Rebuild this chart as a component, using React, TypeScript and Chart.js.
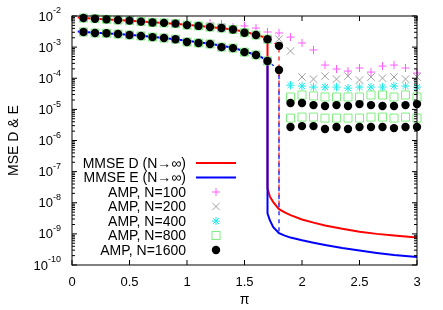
import React, { useEffect, useRef } from 'react';
import { Chart, registerables } from 'chart.js';

Chart.register(...registerables);

const FONT = "'Liberation Sans', Arial, Helvetica, sans-serif";

// ---- data ----
const ampX = [0.1, 0.2, 0.3, 0.4, 0.5, 0.6, 0.7, 0.8, 0.9, 1.0, 1.1, 1.2, 1.3, 1.4, 1.5, 1.6, 1.7, 1.8, 1.9, 2.0, 2.1, 2.2, 2.3, 2.4, 2.5, 2.6, 2.7, 2.8, 2.9, 3.0];

const amp1600D = [8.6e-3, 8.2e-3, 7.8e-3, 7.4e-3, 7.1e-3, 6.6e-3, 6.2e-3, 6.0e-3, 5.7e-3, 5.1e-3, 4.8e-3, 4.4e-3, 4.1e-3, 3.7e-3, 2.9e-3, 2.45e-3, 1.8e-3, 1.1e-3, 1.6e-5, 1.6e-5, 1.37e-5, 1.28e-5, 1.37e-5, 1.28e-5, 1.48e-5, 1.37e-5, 1.28e-5, 1.28e-5, 1.37e-5, 1.48e-5];
const amp1600E = [3.06e-3, 2.84e-3, 2.8e-3, 2.64e-3, 2.45e-3, 2.28e-3, 2.1e-3, 1.96e-3, 1.8e-3, 1.46e-3, 1.36e-3, 1.26e-3, 1.0e-3, 9.3e-4, 6.9e-4, 5.6e-4, 3.6e-4, 1.84e-4, 2.7e-6, 2.9e-6, 2.9e-6, 2.33e-6, 2.7e-6, 2.33e-6, 2.7e-6, 2.7e-6, 2.7e-6, 2.5e-6, 2.7e-6, 2.7e-6];

const amp800D = [8.6e-3, 8.2e-3, 7.8e-3, 7.4e-3, 7.1e-3, 6.6e-3, 6.2e-3, 6.0e-3, 5.7e-3, 5.1e-3, 4.8e-3, 4.4e-3, 4.1e-3, 3.7e-3, 2.9e-3, 2.45e-3, 1.8e-3, null, 2.5e-5, 2.9e-5, 2.7e-5, 2.5e-5, 2.5e-5, 2.5e-5, 2.5e-5, 2.9e-5, 2.9e-5, 2.5e-5, 2.9e-5, 2.5e-5];
const amp800E = [3.06e-3, 2.84e-3, 2.8e-3, 2.64e-3, 2.45e-3, 2.28e-3, 2.1e-3, 1.96e-3, 1.8e-3, 1.46e-3, 1.36e-3, 1.26e-3, 1.0e-3, 9.3e-4, 6.9e-4, 5.6e-4, 3.6e-4, null, 5.25e-6, 5.65e-6, 5.65e-6, 5.25e-6, 5.25e-6, 5.25e-6, 5.25e-6, 5.65e-6, 5.65e-6, 5.25e-6, 5.65e-6, 5.25e-6];

const amp400D = [8.6e-3, 8.2e-3, 7.8e-3, 7.4e-3, 7.1e-3, 6.6e-3, 6.2e-3, 6.0e-3, 5.7e-3, 5.1e-3, 4.8e-3, 4.4e-3, 4.1e-3, 3.7e-3, 2.9e-3, 2.45e-3, 1.8e-3, null, 6.0e-5, 5.6e-5, 5.2e-5, 5.2e-5, 5.2e-5, 4.8e-5, 5.2e-5, 5.2e-5, 5.2e-5, 5.6e-5, 5.6e-5, 5.2e-5];
const amp400E = [3.06e-3, 2.84e-3, 2.8e-3, 2.64e-3, 2.45e-3, 2.28e-3, 2.1e-3, 1.96e-3, 1.8e-3, 1.46e-3, 1.36e-3, 1.26e-3, 1.0e-3, 9.3e-4, 6.9e-4, 5.6e-4, 3.6e-4];

const amp200D = [8.6e-3, 8.2e-3, 7.8e-3, 7.4e-3, 7.1e-3, 6.6e-3, 6.2e-3, 6.0e-3, 5.7e-3, 5.1e-3, 4.8e-3, 4.4e-3, 4.1e-3, 3.7e-3, 2.9e-3, 2.45e-3, 1.8e-3, 1.8e-3, 7.5e-4, 1.1e-4, 9.4e-5, 1.17e-4, 9.4e-5, 1.17e-4, 8.7e-5, 1.1e-4, 1.01e-4, 1.1e-4, 9.4e-5, 1.1e-4];
const amp200E = [3.06e-3, 2.84e-3, 2.8e-3, 2.64e-3, 2.45e-3, 2.28e-3, 2.1e-3, 1.96e-3, 1.8e-3, 1.46e-3, 1.36e-3, 1.26e-3, 1.0e-3, 9.3e-4, 6.9e-4, 5.6e-4, 3.6e-4];

const amp100D = [8.6e-3, 8.2e-3, 7.8e-3, 7.4e-3, 7.1e-3, 6.6e-3, 6.2e-3, 6.0e-3, 5.7e-3, 5.1e-3, 4.8e-3, 5.95e-3, 5.5e-3, 4.4e-3, 4.8e-3, 4.1e-3, 3.06e-3, 2.84e-3, 2.1e-3, 1.36e-3, 8.1e-4, 2.65e-4, 1.98e-4, 1.7e-4, 2.13e-4, 1.58e-4, 2.46e-4, 2.65e-4, 2.13e-4, 1.47e-4];
const amp100E = [3.06e-3, 2.84e-3, 2.8e-3, 2.64e-3, 2.45e-3, 2.28e-3, 2.1e-3, 1.96e-3, 1.8e-3, 1.46e-3, 1.36e-3, 1.26e-3, 1.0e-3, 9.3e-4, 6.9e-4, 5.6e-4, 3.6e-4];

const mmseDX = [0.05, 0.2, 0.4, 0.6, 0.8, 1.0, 1.2, 1.4, 1.5, 1.6, 1.65, 1.7, 1.7, 1.72, 1.75, 1.8, 1.85, 1.9, 2.0, 2.1, 2.2, 2.35, 2.5, 2.65, 2.8, 3.0];
const mmseD = [8.9e-3, 8.2e-3, 7.4e-3, 6.6e-3, 6.0e-3, 5.2e-3, 4.4e-3, 3.7e-3, 3.1e-3, 2.5e-3, 2.2e-3, 1.8e-3, 2.9e-8, 1.6e-8, 1.05e-8, 6.2e-9, 4.9e-9, 4.0e-9, 2.9e-9, 2.3e-9, 1.85e-9, 1.45e-9, 1.18e-9, 1.0e-9, 8.8e-10, 7.6e-10];
const mmseEX = [0.05, 0.2, 0.4, 0.6, 0.8, 1.0, 1.2, 1.4, 1.5, 1.6, 1.65, 1.7, 1.7, 1.72, 1.75, 1.8, 1.85, 1.9, 2.0, 2.1, 2.2, 2.35, 2.5, 2.65, 2.8, 3.0];
const mmseE = [3.15e-3, 2.9e-3, 2.65e-3, 2.3e-3, 1.97e-3, 1.6e-3, 1.28e-3, 9.5e-4, 7.4e-4, 5.6e-4, 4.7e-4, 3.6e-4, 4.6e-9, 2.75e-9, 1.64e-9, 1.05e-9, 8.8e-10, 7.6e-10, 6.2e-10, 5.2e-10, 4.4e-10, 3.5e-10, 2.9e-10, 2.45e-10, 2.1e-10, 1.8e-10];

const spinX = [1.7, 1.8, 1.8];
const spinD = [1.8e-3, 1.1e-3, 6.2e-9];
const spinE = [3.6e-4, 1.84e-4, 1.05e-9];

const xTicks = [0, 0.5, 1, 1.5, 2, 2.5, 3];
const yDecades = [-10, -9, -8, -7, -6, -5, -4, -3, -2];

const legendLabels = ['MMSE D (N\u2192\u221E)', 'MMSE E (N\u2192\u221E)', 'AMP, N=100', 'AMP, N=200', 'AMP, N=400', 'AMP, N=800', 'AMP, N=1600'];

// ---- styles ----
const RED = '#ff0000';
const BLUE = '#0000ff';
const PINK = '#ff5cff';
const GRAY = '#a0a0a0';
const CYAN = '#22eaea';
const GREEN = '#80ee80';

const pts = (xs: number[], ys: (number | null)[]) =>
  ys.map((y, i) => ({ x: xs[i], y })).filter((p) => p.y !== null) as { x: number; y: number }[];

function drawMarker(ctx: CanvasRenderingContext2D, kind: string, x: number, y: number) {
  ctx.save();
  ctx.lineWidth = 1;
  if (kind === 'plus') {
    ctx.strokeStyle = PINK;
    ctx.beginPath();
    ctx.moveTo(x - 4, y); ctx.lineTo(x + 4, y);
    ctx.moveTo(x, y - 4); ctx.lineTo(x, y + 4);
    ctx.stroke();
  } else if (kind === 'x') {
    ctx.strokeStyle = GRAY;
    ctx.beginPath();
    ctx.moveTo(x - 3.7, y - 3.7); ctx.lineTo(x + 3.7, y + 3.7);
    ctx.moveTo(x - 3.7, y + 3.7); ctx.lineTo(x + 3.7, y - 3.7);
    ctx.stroke();
  } else if (kind === 'star') {
    ctx.strokeStyle = CYAN;
    ctx.beginPath();
    ctx.moveTo(x - 4, y); ctx.lineTo(x + 4, y);
    ctx.moveTo(x, y - 4); ctx.lineTo(x, y + 4);
    ctx.moveTo(x - 3, y - 3); ctx.lineTo(x + 3, y + 3);
    ctx.moveTo(x - 3, y + 3); ctx.lineTo(x + 3, y - 3);
    ctx.stroke();
  } else if (kind === 'square') {
    ctx.strokeStyle = GREEN;
    ctx.strokeRect(x - 4, y - 4, 8, 8);
  } else if (kind === 'dot') {
    ctx.fillStyle = '#000';
    ctx.beginPath();
    ctx.arc(x, y, 4.2, 0, Math.PI * 2);
    ctx.fill();
  }
  ctx.restore();
}

const decorPlugin = {
  id: 'decor',
  afterDraw(chart: any) {
    const { ctx, chartArea: a, scales } = chart;
    const xs = scales.x;
    const ys = scales.y;
    ctx.save();
    // frame
    ctx.strokeStyle = '#000';
    ctx.lineWidth = 1;
    ctx.strokeRect(a.left, a.top, a.right - a.left, a.bottom - a.top);
    // ticks
    ctx.beginPath();
    for (const v of xTicks) {
      const px = xs.getPixelForValue(v);
      ctx.moveTo(px, a.bottom); ctx.lineTo(px, a.bottom - 5);
      ctx.moveTo(px, a.top); ctx.lineTo(px, a.top + 5);
    }
    for (const e of yDecades) {
      for (let m = 1; m <= 9; m++) {
        if (e === -2 && m > 1) break;
        const py = ys.getPixelForValue(m * Math.pow(10, e));
        const len = m === 1 ? 5 : 3;
        ctx.moveTo(a.left, py); ctx.lineTo(a.left + len, py);
        ctx.moveTo(a.right, py); ctx.lineTo(a.right - len, py);
      }
    }
    ctx.stroke();

    // y tick labels: 10^e
    ctx.fillStyle = '#000';
    ctx.textBaseline = 'middle';
    ctx.textAlign = 'left';
    const xR = 61;
    for (const e of yDecades) {
      const py = ys.getPixelForValue(Math.pow(10, e));
      ctx.font = `9px ${FONT}`;
      const es = String(e);
      const we = ctx.measureText(es).width;
      ctx.fillText(es, xR - we, py - 5);
      ctx.font = `13px ${FONT}`;
      const wb = ctx.measureText('10').width;
      ctx.fillText('10', xR - we - wb, py + 1);
    }

    // axis titles
    ctx.font = `14px ${FONT}`;
    ctx.textAlign = 'center';
    ctx.fillText('\u03C0', (a.left + a.right) / 2, 300);
    ctx.save();
    ctx.translate(14, (a.top + a.bottom) / 2);
    ctx.rotate(-Math.PI / 2);
    ctx.fillText('MSE D & E', 0, 0);
    ctx.restore();

    // legend
    const ly0 = 163;
    const dy = 14.5;
    const kinds = ['lineD', 'lineE', 'plus', 'x', 'star', 'square', 'dot'];
    ctx.font = `14px ${FONT}`;
    ctx.textAlign = 'right';
    ctx.textBaseline = 'middle';
    legendLabels.forEach((lab, i) => {
      const y = ly0 + i * dy;
      ctx.fillStyle = '#000';
      ctx.fillText(lab, 186, y + 1);
      const k = kinds[i];
      if (k === 'lineD' || k === 'lineE') {
        ctx.strokeStyle = k === 'lineD' ? RED : BLUE;
        ctx.lineWidth = 2;
        ctx.beginPath();
        ctx.moveTo(196, y); ctx.lineTo(236, y);
        ctx.stroke();
      } else {
        drawMarker(ctx, k, 216, y);
      }
    });
    ctx.restore();
  },
};

export default function App() {
  const ref = useRef<HTMLCanvasElement>(null);
  useEffect(() => {
    document.body.style.margin = '0';
    Chart.defaults.font.family = FONT;
    const pointBase = { showLine: false, clip: false as any };
    const chart = new Chart(ref.current!, {
      type: 'scatter',
      data: {
        datasets: [
          { ...pointBase, label: 'AMP, N=1600 D', data: pts(ampX, amp1600D), pointStyle: 'circle', pointRadius: 4.2, backgroundColor: '#000', borderColor: '#000', pointBorderWidth: 0, order: 0 },
          { ...pointBase, label: 'AMP, N=1600 E', data: pts(ampX, amp1600E), pointStyle: 'circle', pointRadius: 4.2, backgroundColor: '#000', borderColor: '#000', pointBorderWidth: 0, order: 0 },
          { ...pointBase, label: 'AMP, N=800 D', data: pts(ampX, amp800D), pointStyle: 'rect', pointRadius: 5.66, backgroundColor: 'rgba(0,0,0,0)', borderColor: GREEN, pointBorderWidth: 1, order: 1 },
          { ...pointBase, label: 'AMP, N=800 E', data: pts(ampX, amp800E), pointStyle: 'rect', pointRadius: 5.66, backgroundColor: 'rgba(0,0,0,0)', borderColor: GREEN, pointBorderWidth: 1, order: 1 },
          { ...pointBase, label: 'AMP, N=400 D', data: pts(ampX, amp400D), pointStyle: 'star', pointRadius: 4.2, backgroundColor: 'rgba(0,0,0,0)', borderColor: CYAN, pointBorderWidth: 1, order: 2 },
          { ...pointBase, label: 'AMP, N=400 E', data: pts(ampX, amp400E), pointStyle: 'star', pointRadius: 4.2, backgroundColor: 'rgba(0,0,0,0)', borderColor: CYAN, pointBorderWidth: 1, order: 2 },
          { ...pointBase, label: 'AMP, N=200 D', data: pts(ampX, amp200D), pointStyle: 'crossRot', pointRadius: 5.3, backgroundColor: 'rgba(0,0,0,0)', borderColor: GRAY, pointBorderWidth: 1, order: 3 },
          { ...pointBase, label: 'AMP, N=200 E', data: pts(ampX, amp200E), pointStyle: 'crossRot', pointRadius: 5.3, backgroundColor: 'rgba(0,0,0,0)', borderColor: GRAY, pointBorderWidth: 1, order: 3 },
          { ...pointBase, label: 'AMP, N=100 D', data: pts(ampX, amp100D), pointStyle: 'cross', pointRadius: 4, backgroundColor: 'rgba(0,0,0,0)', borderColor: PINK, pointBorderWidth: 1, order: 4 },
          { ...pointBase, label: 'AMP, N=100 E', data: pts(ampX, amp100E), pointStyle: 'cross', pointRadius: 4, backgroundColor: 'rgba(0,0,0,0)', borderColor: PINK, pointBorderWidth: 1, order: 4 },
          { label: 'spinodal E', data: pts(spinX, spinE), showLine: true, borderColor: BLUE, borderWidth: 1.2, borderDash: [4, 4], borderDashOffset: 4, pointRadius: 0, tension: 0, order: 5 },
          { label: 'spinodal D', data: pts(spinX, spinD), showLine: true, borderColor: RED, borderWidth: 1.2, borderDash: [4, 4], pointRadius: 0, tension: 0, order: 6 },
          { label: 'MMSE E (N\u2192\u221E)', data: pts(mmseEX, mmseE), showLine: true, borderColor: BLUE, borderWidth: 2, pointRadius: 0, tension: 0, order: 7 },
          { label: 'MMSE D (N\u2192\u221E)', data: pts(mmseDX, mmseD), showLine: true, borderColor: RED, borderWidth: 2, pointRadius: 0, tension: 0, order: 8 },
        ] as any,
      },
      options: {
        animation: false,
        responsive: false,
        maintainAspectRatio: false,
        events: [],
        layout: { padding: { top: 16, right: 26, left: 0, bottom: 0 } },
        plugins: { legend: { display: false }, tooltip: { enabled: false }, title: { display: false } },
        scales: {
          x: {
            type: 'linear',
            min: 0,
            max: 3,
            afterFit: (s: any) => { s.height = 45; },
            grid: { display: false, drawTicks: false },
            border: { display: false },
            ticks: {
              stepSize: 0.5,
              padding: 10,
              color: '#000',
              font: { size: 13, family: FONT },
              callback: (v: any) => String(v),
              maxRotation: 0,
              autoSkip: false,
            },
          },
          y: {
            type: 'logarithmic',
            min: 1e-10,
            max: 1e-2,
            afterFit: (s: any) => { s.width = 72; },
            grid: { display: false, drawTicks: false },
            border: { display: false },
            ticks: { display: false },
          },
        },
      } as any,
      plugins: [decorPlugin],
    });
    return () => chart.destroy();
  }, []);
  return (
    <div style={{ position: 'absolute', left: 0, top: 0, width: 443, height: 310, background: '#fff' }}>
      <canvas ref={ref} width={443} height={310} style={{ display: 'block', width: 443, height: 310 }} />
    </div>
  );
}
